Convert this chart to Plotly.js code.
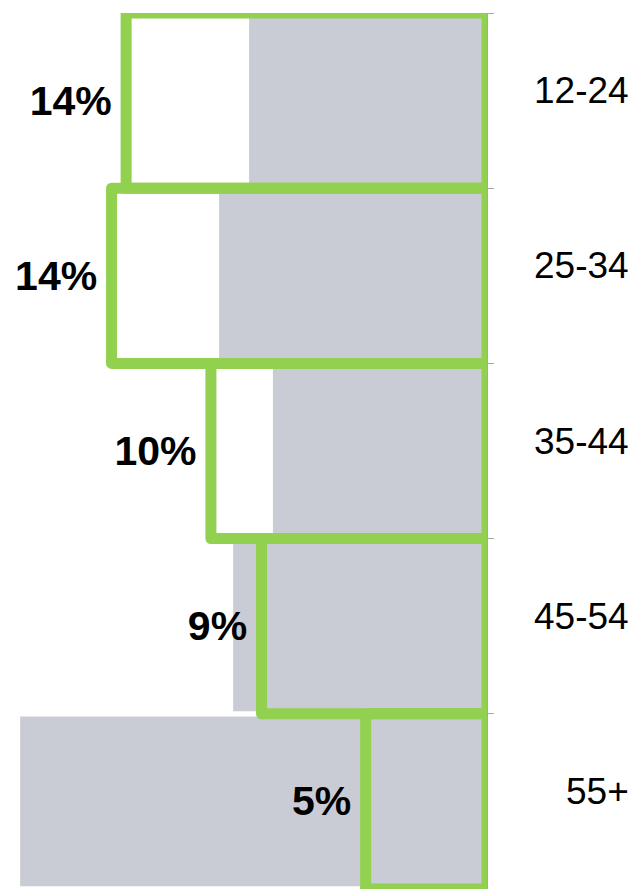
<!DOCTYPE html>
<html>
<head>
<meta charset="utf-8">
<script src="https://cdn.plot.ly/plotly-3.0.1.min.js"></script>
<style>
  html, body { margin: 0; padding: 0; background: #ffffff; }
  #chart { width: 633px; height: 889px; }
  .point path { stroke-linejoin: round; }
</style>
</head>
<body>
<div id="chart"></div>
<script>
// Age groups (top to bottom)
const categories = ['12-24', '25-34', '35-44', '45-54', '55+'];
// Grey filled bars (baseline share, %)
const greyValues = [8.98, 10.11, 8.08, 9.58, 17.62];
// Green outlined bars (share, %), labelled
const greenValues = [13.62, 14.17, 10.42, 8.51, 4.58];

const GREEN = '#92D050';
const GREY = '#C9CCD4';
const FONT = 'Arial, "Liberation Sans", sans-serif';

const traces = [
  {
    type: 'bar',
    orientation: 'h',
    y: categories,
    x: greyValues,
    width: 0.97,
    marker: { color: GREY, line: { width: 0 } },
    hoverinfo: 'skip',
    showlegend: false
  },
  {
    type: 'bar',
    orientation: 'h',
    y: categories,
    x: greenValues,
    width: 1.0,
    marker: { color: 'rgba(0,0,0,0)', line: { color: GREEN, width: 11 } },
    texttemplate: '%{x:.0f}%\u00a0',
    textposition: 'outside',
    constraintext: 'none',
    cliponaxis: false,
    textfont: { family: FONT, size: 41, color: '#000000', weight: 'bold' },
    hoverinfo: 'skip',
    showlegend: false
  }
];

const annotations = categories.map(c => ({
  xref: 'paper', yref: 'y',
  x: 1.2957, y: c,
  xanchor: 'right', yanchor: 'middle',
  yshift: 10,
  text: c,
  showarrow: false,
  font: { family: FONT, size: 37, color: '#000000' }
}));

const layout = {
  width: 633,
  height: 889,
  margin: { l: 0, r: 146, t: 13, b: 0, pad: 0 },
  paper_bgcolor: '#ffffff',
  plot_bgcolor: 'rgba(0,0,0,0)',
  barmode: 'overlay',
  showlegend: false,
  hovermode: false,
  xaxis: {
    range: [18.38, 0],
    showgrid: false,
    zeroline: false,
    showline: false,
    showticklabels: false,
    ticks: ''
  },
  yaxis: {
    type: 'category',
    categoryorder: 'array',
    categoryarray: categories,
    range: [4.5, -0.5],
    side: 'right',
    showline: true,
    linecolor: '#A6A6A6',
    linewidth: 1,
    ticks: 'outside',
    ticklen: 6,
    tickwidth: 1,
    tickcolor: '#A6A6A6',
    tickson: 'boundaries',
    showticklabels: false,
    showgrid: false,
    zeroline: false
  },
  annotations: annotations
};

Plotly.newPlot('chart', traces, layout, { displayModeBar: false, staticPlot: true });
</script>
</body>
</html>
